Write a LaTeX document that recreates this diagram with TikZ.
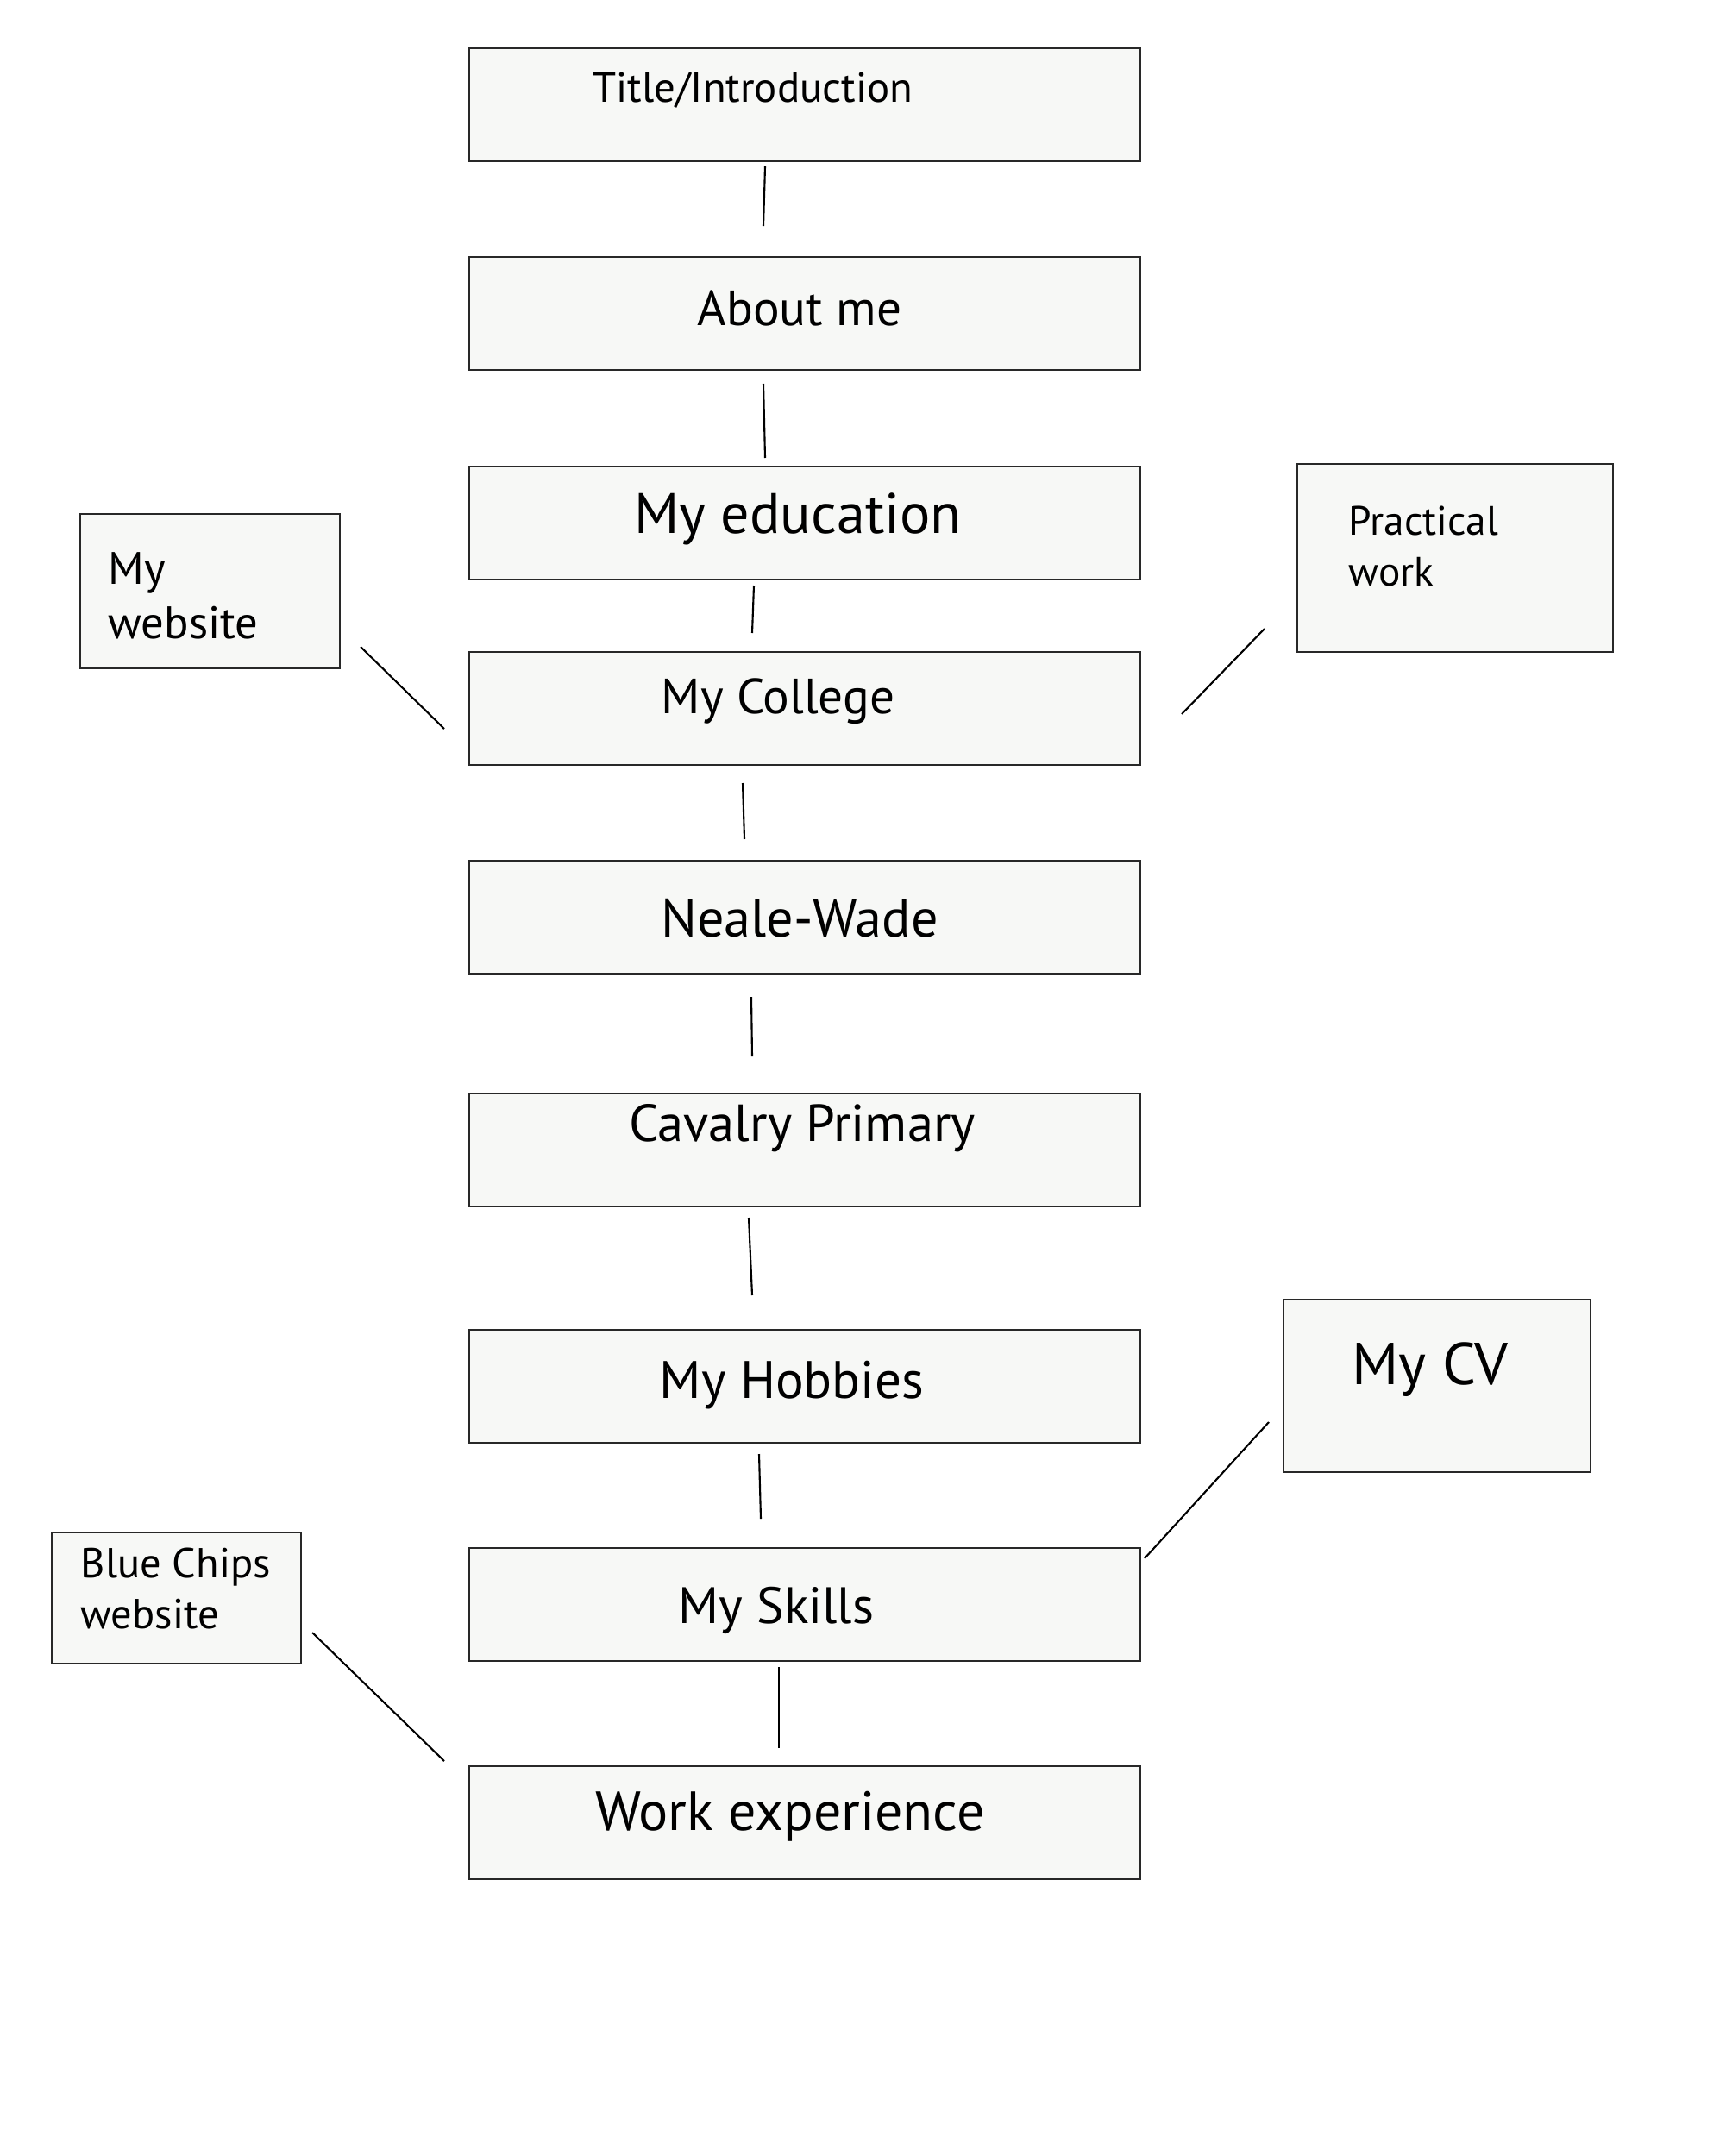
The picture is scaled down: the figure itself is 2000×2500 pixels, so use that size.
\documentclass[tikz,border=0pt]{standalone}
\usepackage{fontspec}
\setmainfont{PT Sans}
\definecolor{boxfill}{RGB}{247,248,246}
\definecolor{edge}{RGB}{40,40,40}
\tikzset{
  box/.style={draw=edge, fill=boxfill, line width=0.6pt, inner sep=0pt, anchor=north west},
  mainbox/.style={box, minimum width=77.8mm, minimum height=13.1mm},
  txt/.style={inner sep=0pt, anchor=base, text=black},
  ltxt/.style={inner sep=0pt, anchor=base west, text=black, align=left},
  conn/.style={draw=black, line width=0.6pt}
}
\begin{document}
\begin{tikzpicture}[x=0.1mm, y=-0.1mm]
\useasboundingbox (0,0) rectangle (2000,2500);
\fill[white] (0,0) rectangle (2000,2500);
% main column
\node[mainbox] (title) at (543,55) {};
\node[mainbox] (about) at (543,297) {};
\node[mainbox] (edu) at (543,540) {};
\node[mainbox] (college) at (543,755) {};
\node[mainbox] (neale) at (543,997) {};
\node[mainbox] (cavalry) at (543,1267) {};
\node[mainbox] (hobbies) at (543,1541) {};
\node[mainbox] (skills) at (543,1794) {};
\node[mainbox] (work) at (543,2047) {};
% side boxes
\node[box, minimum width=30.1mm, minimum height=17.9mm] (web) at (92,595) {};
\node[box, minimum width=36.6mm, minimum height=21.8mm] (pract) at (1503,537) {};
\node[box, minimum width=35.6mm, minimum height=20.0mm] (cv) at (1487,1506) {};
\node[box, minimum width=28.9mm, minimum height=15.2mm] (blue) at (59,1776) {};
% texts
\node[txt, font=\fontsize{13.9}{17}\selectfont] (ttitle) at (873,118) {Title/Introduction};
\node[txt, font=\fontsize{16.3}{19}\selectfont] (tabout) at (927,377) {About me};
\node[txt, font=\fontsize{18.8}{22}\selectfont] (tedu) at (925,618) {My education};
\node[txt, font=\fontsize{16.3}{19}\selectfont] (tcollege) at (902,827) {My College};
\node[txt, font=\fontsize{17.7}{21}\selectfont] (tneale) at (927,1086) {Neale-Wade};
\node[txt, font=\fontsize{17.2}{21}\selectfont] (tcavalry) at (930,1323) {Cavalry Primary};
\node[txt, font=\fontsize{17.4}{21}\selectfont] (thobbies) at (918,1621) {My Hobbies};
\node[txt, font=\fontsize{16.9}{20}\selectfont] (tskills) at (900,1882) {My Skills};
\node[txt, font=\fontsize{18.2}{21}\selectfont] (twork) at (916,2122) {Work experience};
\node[txt, font=\fontsize{19.5}{23}\selectfont] (tcv) at (1658,1605) {My CV};
\node[ltxt, font=\fontsize{15}{18}\selectfont] (tweb1) at (125,677) {My};
\node[ltxt, font=\fontsize{15}{18}\selectfont] (tweb2) at (125,740) {website};
\node[ltxt, font=\fontsize{13.5}{17}\selectfont] (tpract1) at (1563,620) {Practical};
\node[ltxt, font=\fontsize{13.5}{17}\selectfont] (tpract2) at (1563,679) {work};
\node[ltxt, font=\fontsize{13.8}{17}\selectfont] (tblue1) at (93,1829) {Blue Chips};
\node[ltxt, font=\fontsize{13.8}{17}\selectfont] (tblue2) at (93,1888) {website};
% connector end points
\coordinate (c1a) at (887,193);  \coordinate (c1b) at (885,262);
\coordinate (c2a) at (885,445);  \coordinate (c2b) at (887,531);
\coordinate (c3a) at (874,679);  \coordinate (c3b) at (872,734);
\coordinate (c4a) at (861,908);  \coordinate (c4b) at (863,973);
\coordinate (c5a) at (871,1156); \coordinate (c5b) at (872,1225);
\coordinate (c6a) at (868,1412); \coordinate (c6b) at (872,1502);
\coordinate (c7a) at (880,1686); \coordinate (c7b) at (882,1761);
\coordinate (c8a) at (903,1933); \coordinate (c8b) at (903,2027);
\coordinate (wa) at (418,750);   \coordinate (wb) at (515,845);
\coordinate (pa) at (1466,729);  \coordinate (pb) at (1370,828);
\coordinate (va) at (1471,1649); \coordinate (vb) at (1327,1807);
\coordinate (ba) at (362,1893);  \coordinate (bb) at (515,2042);
\draw[conn] (c1a) -- (c1b);
\draw[conn] (c2a) -- (c2b);
\draw[conn] (c3a) -- (c3b);
\draw[conn] (c4a) -- (c4b);
\draw[conn] (c5a) -- (c5b);
\draw[conn] (c6a) -- (c6b);
\draw[conn] (c7a) -- (c7b);
\draw[conn] (c8a) -- (c8b);
\draw[conn] (wa) -- (wb);
\draw[conn] (pa) -- (pb);
\draw[conn] (va) -- (vb);
\draw[conn] (ba) -- (bb);
\end{tikzpicture}
\end{document}
